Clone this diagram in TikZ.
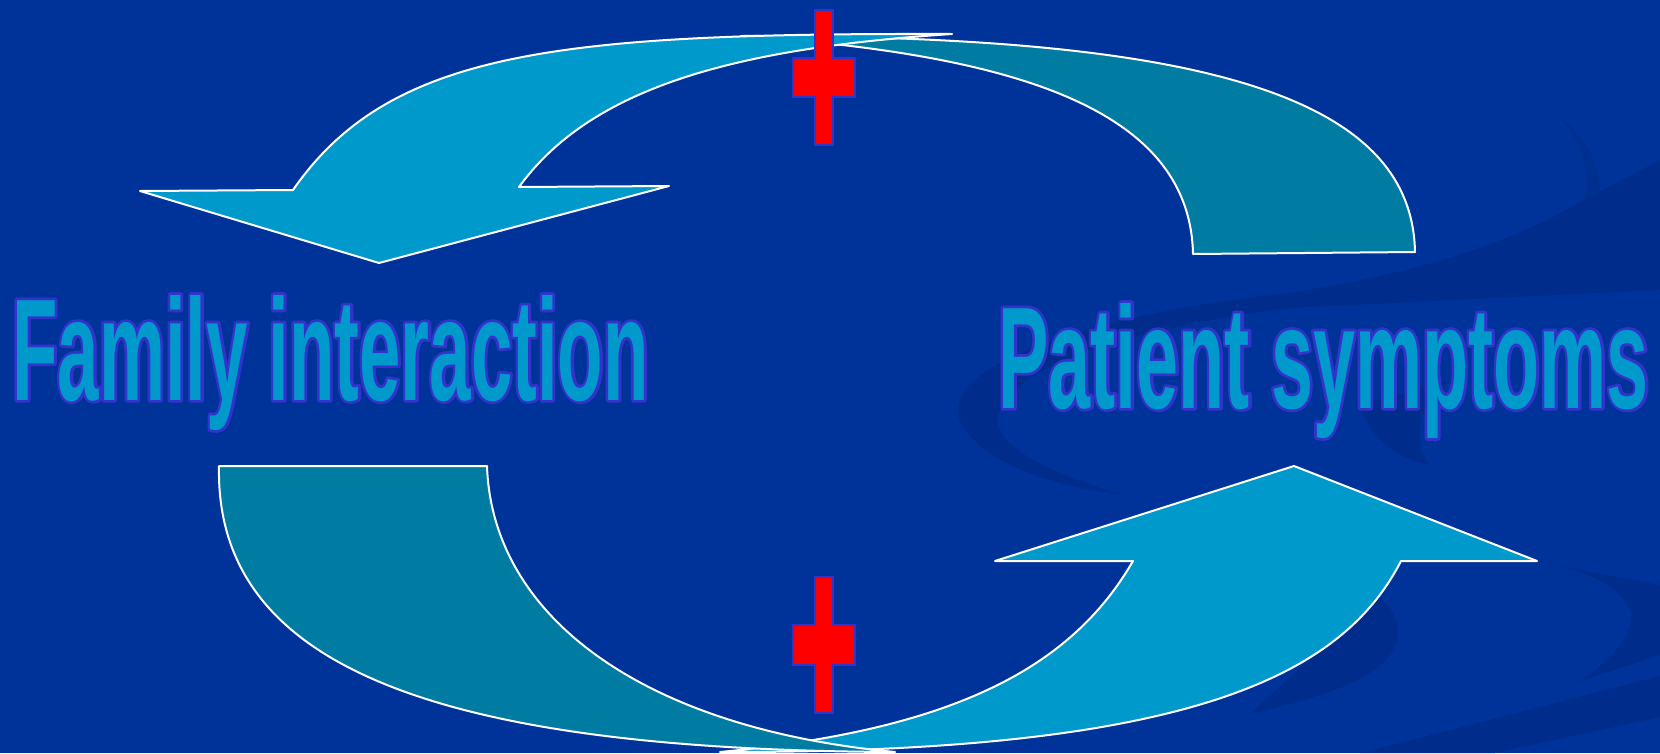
\documentclass[tikz,border=0pt]{standalone}
\usepackage{fontspec}
\setmainfont{Liberation Sans}
\newfontfamily\waFontA{Liberation Sans}[FakeStretch=0.513]
\newfontfamily\waFontB{Liberation Sans}[FakeStretch=0.521]
\definecolor{bg}{HTML}{003399}
\definecolor{swirl}{HTML}{002D8C}
\definecolor{swirlb}{HTML}{00308F}
\definecolor{lblue}{HTML}{0099CC}
\definecolor{tealc}{HTML}{007CA3}
\definecolor{olc}{HTML}{3333CC}
\definecolor{txtc}{HTML}{0099CC}
\definecolor{crossred}{HTML}{FF0000}
\newcommand\strokeonly{\special{pdf:literal direct 0.2 0.2 0.8 RG 1 Tr 5.4 w 1 j}}
\newcommand\strokeoff{\special{pdf:literal direct 0 Tr}}
\newcommand\wordart[1]{\rlap{\strokeonly #1\strokeoff}#1}
\tikzset{
  arrowshape/.style={draw=white, line width=2pt, line join=round},
  lightarrow/.style={arrowshape, fill=lblue},
  tealarrow/.style={arrowshape, fill=tealc},
  crossshape/.style={fill=crossred, draw=olc, line width=2.7pt, line join=miter},
  swirlshape/.style={fill=swirl, draw=none},
  label/.style={anchor=base west, inner sep=0pt, text=txtc}
}
\begin{document}
\begin{tikzpicture}[x=1pt,y=-1pt]
\useasboundingbox (0,0) rectangle (1660,753);
\fill[bg] (0,0) rectangle (1660,753);
% background swirls
\path[swirlshape] (1583,200) .. controls (1500,250) and (1400,275) .. (1290,293)
  .. controls (1080,315) and (930,370) .. (962,425)
  .. controls (985,465) and (1060,488) .. (1120,494)
  .. controls (1040,470) and (985,440) .. (1000,410)
  .. controls (1020,365) and (1120,330) .. (1290,308)
  -- (1660,290) -- (1660,160) -- cycle;
\path[swirlshape] (1540,562) .. controls (1600,572) and (1645,600) .. (1627,633)
  .. controls (1615,655) and (1600,668) .. (1578,682)
  -- (1660,655) -- (1660,585) -- cycle;
\path[swirlshape] (1360,753) -- (1660,676) -- (1660,717) -- (1495,753) -- cycle;
\path[swirlshape] (1373,590) .. controls (1420,630) and (1400,670) .. (1320,695)
  .. controls (1290,705) and (1260,712) .. (1250,714) -- (1330,640) -- cycle;
\path[swirlshape] (1360,405) .. controls (1370,440) and (1400,460) .. (1430,465)
  .. controls (1410,440) and (1420,400) .. (1450,380) -- cycle;
\path[fill=swirlb] (1550,110) .. controls (1590,140) and (1590,190) .. (1583,200)
  -- (1600,190) .. controls (1600,160) and (1580,130) .. (1550,110) -- cycle;
% top right teal arrow
\path[tealarrow] (1193,254) -- (1415,252)
  .. controls (1412,95) and (1200,35) .. (741,36)
  .. controls (1030,55) and (1190,115) .. (1193,254) -- cycle;
% top left light-blue arrow
\path[lightarrow] (293,190) -- (140,191) -- (379,263) -- (669,186) -- (519,187)
  .. controls (593,85) and (741,48) .. (952,34)
  .. controls (560,33) and (390,50) .. (293,190) -- cycle;
% bottom right light-blue arrow
\path[lightarrow] (1133,561) -- (995,561) -- (1294,466) -- (1537,561) -- (1401,561)
  .. controls (1340,680) and (1180,753) .. (720,752)
  .. controls (950,730) and (1070,670) .. (1133,561) -- cycle;
% bottom left teal arrow
\path[tealarrow] (219,466) -- (487,466)
  .. controls (492,615) and (640,728) .. (895,752)
  .. controls (420,750) and (215,660) .. (219,466) -- cycle;
% crosses
\path[crossshape] (815,10) -- (833,10) -- (833,58) -- (855,58) -- (855,97) -- (833,97)
  -- (833,145) -- (815,145) -- (815,97) -- (793,97) -- (793,58) -- (815,58) -- cycle;
\path[crossshape] (815,577) -- (833,577) -- (833,625) -- (855,625) -- (855,665) -- (833,665)
  -- (833,713) -- (815,713) -- (815,665) -- (793,665) -- (793,625) -- (815,625) -- cycle;
% labels
\node[label] (family) at (12,400) {\waFontA\bfseries\fontsize{145}{160}\selectfont\wordart{Family interaction}};
\node[label] (patient) at (998,408) {\waFontB\bfseries\fontsize{145}{160}\selectfont\wordart{Patient symptoms}};
\end{tikzpicture}
\end{document}
